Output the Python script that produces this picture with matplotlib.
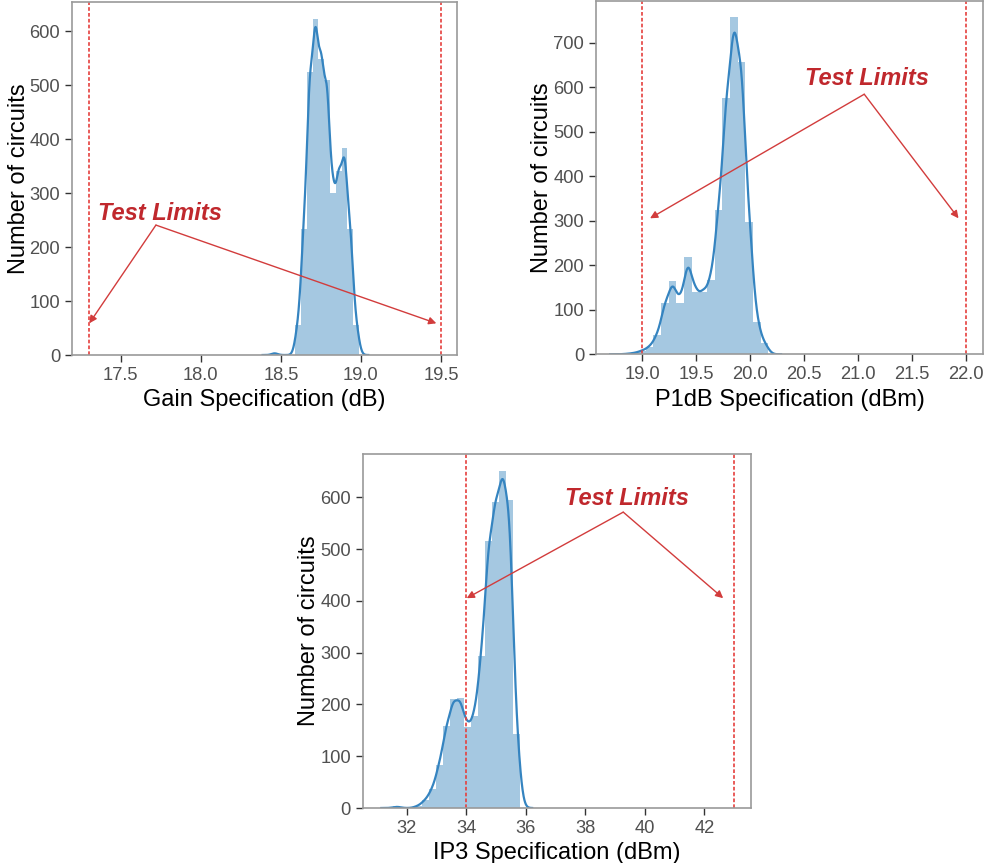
import numpy as np
import matplotlib
matplotlib.use("Agg")
import matplotlib.pyplot as plt

plt.rcParams['font.family'] = ['Liberation Sans', 'DejaVu Sans']

# ---------------- data ----------------
# Gain histogram (dB)
gain_bin_start = 18.443
gain_bin_width = 0.0364
gain_counts = [4, 0, 0, 0, 55, 234, 525, 623, 549, 509, 300, 340, 383, 234, 56]
gain_limits = [17.3, 19.5]
gain_xticks = [17.5, 18.0, 18.5, 19.0, 19.5]
gain_yticks = [0, 100, 200, 300, 400, 500, 600]

# P1dB histogram (dBm)
p1db_bin_start = 18.818
p1db_bin_width = 0.0711
p1db_counts = [1, 3, 8, 17, 43, 116, 165, 116, 218, 141, 141, 167, 324, 577,
               757, 657, 298, 73, 25]
p1db_limits = [19.0, 22.0]
p1db_xticks = [19.0, 19.5, 20.0, 20.5, 21.0, 21.5, 22.0]
p1db_yticks = [0, 100, 200, 300, 400, 500, 600, 700]

# IP3 histogram (dBm)
ip3_bin_start = 31.55
ip3_bin_width = 0.2367
ip3_counts = [3, 0, 0, 4, 15, 36, 83, 158, 210, 212, 157, 177, 293, 515,
              592, 652, 595, 143]
ip3_limits = [34.0, 43.0]
ip3_xticks = [32, 34, 36, 38, 40, 42]
ip3_yticks = [0, 100, 200, 300, 400, 500, 600]

ylabel = "Number of circuits"
annot_text = "Test Limits"

# ---------------- style ----------------
BAR_COLOR = '#1f77b4'
KDE_COLOR = '#3584c0'
LIMIT_COLOR = '#e5403d'
ARROW_COLOR = '#d23c3c'
TEXT_COLOR = '#c0282d'


def draw_panel(ax, start, width, counts, bw, limits, xticks, yticks,
               xlim, ylim, xlabel, text_xy, arrow_from, arrow_to):
    counts = np.asarray(counts, dtype=float)
    edges = start + width * np.arange(len(counts) + 1)
    centers = 0.5 * (edges[:-1] + edges[1:])
    ax.bar(edges[:-1], counts, width=np.diff(edges), align='edge',
           color=BAR_COLOR, alpha=0.4, linewidth=0)
    # kernel density estimate of the binned counts, scaled to counts
    grid = np.linspace(edges[0] - 3 * bw, edges[-1] + 3 * bw, 600)
    z = (grid[:, None] - centers[None, :]) / bw
    dens = (np.exp(-0.5 * z ** 2) / np.sqrt(2 * np.pi) / bw) @ counts * width
    ax.plot(grid, dens, color=KDE_COLOR, lw=1.6)
    for lim in limits:
        ax.axvline(lim, color=LIMIT_COLOR, lw=1.2, ls=(0, (2.2, 1.3)))
    ax.set_xlim(*xlim)
    ax.set_ylim(*ylim)
    ax.set_xticks(xticks)
    ax.set_yticks(yticks)
    ax.set_xlabel(xlabel, fontsize=17, color='black', labelpad=4)
    ax.set_ylabel(ylabel, fontsize=17, color='black', labelpad=0)
    ax.tick_params(axis='both', direction='out', length=5, width=1,
                   colors='#333333', labelcolor='#505050', labelsize=13.2,
                   top=False, right=False)
    for s in ax.spines.values():
        s.set_color('#9a9a9a')
        s.set_linewidth(1.2)
    ax.text(text_xy[0], text_xy[1], annot_text, fontsize=17,
            fontweight='bold', fontstyle='italic', color=TEXT_COLOR,
            ha='left', va='baseline')
    for tgt in arrow_to:
        ax.annotate('', xy=tgt, xytext=arrow_from,
                    arrowprops=dict(arrowstyle='-|>', color=ARROW_COLOR,
                                    lw=1.0, shrinkA=0, shrinkB=0,
                                    mutation_scale=11))


fig = plt.figure(figsize=(9.84, 8.63), dpi=100)

W, H = 984.0, 863.0
ax1 = fig.add_axes([72 / W, 1 - 355 / H, 385 / W, 353 / H])
ax2 = fig.add_axes([596 / W, 1 - 354.3 / H, 387 / W, 353.3 / H])
ax3 = fig.add_axes([362.7 / W, 1 - 808 / H, 388.3 / W, 354 / H])

draw_panel(ax1, gain_bin_start, gain_bin_width, gain_counts, 0.019,
           gain_limits, gain_xticks, gain_yticks,
           (17.196, 19.60), (0, 654), "Gain Specification (dB)",
           (17.36, 250), (17.72, 240.7), [(17.304, 58.7), (19.471, 58.7)])

draw_panel(ax2, p1db_bin_start, p1db_bin_width, p1db_counts, 0.039,
           p1db_limits, p1db_xticks, p1db_yticks,
           (18.57, 22.158), (0, 794), "P1dB Specification (dBm)",
           (20.509, 604.7), (21.057, 584.5), [(19.071, 305.6), (21.931, 305.6)])

draw_panel(ax3, ip3_bin_start, ip3_bin_width, ip3_counts, 0.135,
           ip3_limits, ip3_xticks, ip3_yticks,
           (30.52, 43.57), (0, 684), "IP3 Specification (dBm)",
           (37.317, 584.5), (39.276, 571.7), [(34.015, 405.4), (42.635, 405.4)])

fig.savefig("out.png", dpi=100)
